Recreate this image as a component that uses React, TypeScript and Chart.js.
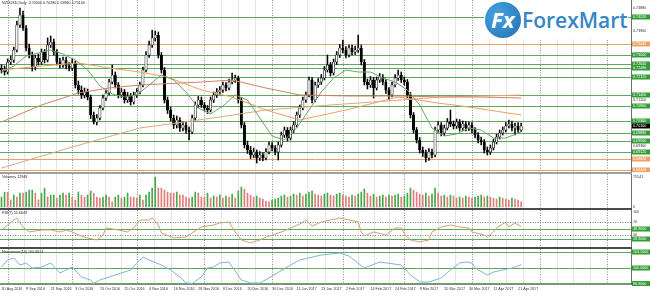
import React, { useEffect, useRef } from 'react';
import { Chart, registerables } from 'chart.js';

Chart.register(...registerables);

// ---------------- data ----------------
const opens = [
  0.7248, 0.7240, 0.7232, 0.7272, 0.7280, 0.7320, 0.7420, 0.7460, 0.7408, 0.7328,
  0.7300, 0.7252, 0.7288, 0.7272, 0.7312, 0.7280, 0.7340, 0.7352, 0.7312, 0.7272,
  0.7260, 0.7280, 0.7256, 0.7248, 0.7268, 0.7180, 0.7160, 0.7140, 0.7152, 0.7132,
  0.7060, 0.7032, 0.7048, 0.7088, 0.7128, 0.7148, 0.7192, 0.7220, 0.7180, 0.7140,
  0.7152, 0.7120, 0.7136, 0.7112, 0.7140, 0.7152, 0.7180, 0.7240, 0.7300, 0.7340,
  0.7368, 0.7380, 0.7300, 0.7240, 0.7120, 0.7080, 0.7048, 0.7020, 0.7040, 0.7008,
  0.7020, 0.7000, 0.6992, 0.7048, 0.7100, 0.7120, 0.7100, 0.7088, 0.7080, 0.7120,
  0.7140, 0.7152, 0.7160, 0.7180, 0.7168, 0.7192, 0.7200, 0.7208, 0.7120, 0.7020,
  0.6940, 0.6920, 0.6900, 0.6912, 0.6888, 0.6900, 0.6888, 0.6912, 0.6940, 0.6928,
  0.6912, 0.6940, 0.6980, 0.7000, 0.6968, 0.7000, 0.7020, 0.7060, 0.7088, 0.7120,
  0.7140, 0.7200, 0.7120, 0.7180, 0.7192, 0.7208, 0.7240, 0.7260, 0.7228, 0.7272,
  0.7300, 0.7328, 0.7320, 0.7300, 0.7328, 0.7312, 0.7320, 0.7328, 0.7272, 0.7192,
  0.7180, 0.7200, 0.7168, 0.7200, 0.7212, 0.7192, 0.7160, 0.7140, 0.7180, 0.7208,
  0.7220, 0.7200, 0.7192, 0.7140, 0.7060, 0.7000, 0.6960, 0.6920, 0.6908, 0.6888,
  0.6912, 0.6900, 0.7000, 0.7020, 0.6988, 0.7008, 0.7032, 0.7024, 0.7016, 0.7032,
  0.7008, 0.7024, 0.7008, 0.7020, 0.7000, 0.6980, 0.6960, 0.6952, 0.6920, 0.6912,
  0.6928, 0.6952, 0.6972, 0.6988, 0.7000, 0.7016, 0.7024, 0.7008, 0.7016, 0.7000,
];
const highs = [
  0.7262, 0.7256, 0.7284, 0.7296, 0.7332, 0.7436, 0.7488, 0.7476, 0.7418, 0.7344,
  0.7312, 0.7300, 0.7304, 0.7324, 0.7322, 0.7368, 0.7376, 0.7364, 0.7322, 0.7288,
  0.7292, 0.7292, 0.7270, 0.7284, 0.7276, 0.7196, 0.7176, 0.7168, 0.7164, 0.7140,
  0.7072, 0.7062, 0.7098, 0.7140, 0.7160, 0.7204, 0.7260, 0.7232, 0.7190, 0.7166,
  0.7162, 0.7150, 0.7146, 0.7152, 0.7166, 0.7192, 0.7252, 0.7314, 0.7356, 0.7400,
  0.7396, 0.7392, 0.7310, 0.7250, 0.7132, 0.7092, 0.7060, 0.7056, 0.7050, 0.7034,
  0.7032, 0.7012, 0.7060, 0.7112, 0.7134, 0.7132, 0.7110, 0.7098, 0.7132, 0.7152,
  0.7166, 0.7174, 0.7192, 0.7190, 0.7204, 0.7228, 0.7220, 0.7216, 0.7130, 0.7030,
  0.6956, 0.6934, 0.6928, 0.6920, 0.6914, 0.6910, 0.6926, 0.6952, 0.6950, 0.6938,
  0.6952, 0.6992, 0.7012, 0.7010, 0.7012, 0.7034, 0.7072, 0.7100, 0.7132, 0.7152,
  0.7212, 0.7210, 0.7192, 0.7206, 0.7222, 0.7254, 0.7300, 0.7270, 0.7284, 0.7314,
  0.7342, 0.7360, 0.7334, 0.7340, 0.7340, 0.7336, 0.7380, 0.7340, 0.7282, 0.7204,
  0.7214, 0.7210, 0.7212, 0.7226, 0.7222, 0.7202, 0.7170, 0.7192, 0.7222, 0.7240,
  0.7232, 0.7212, 0.7202, 0.7150, 0.7070, 0.7010, 0.6970, 0.6932, 0.6920, 0.6926,
  0.6924, 0.7012, 0.7034, 0.7030, 0.7020, 0.7046, 0.7080, 0.7036, 0.7044, 0.7042,
  0.7036, 0.7034, 0.7032, 0.7030, 0.7010, 0.6990, 0.6972, 0.6962, 0.6932, 0.6940,
  0.6964, 0.6984, 0.7000, 0.7012, 0.7030, 0.7040, 0.7036, 0.7028, 0.7030, 0.7028,
];
const lows = [
  0.7228, 0.7220, 0.7224, 0.7262, 0.7270, 0.7312, 0.7410, 0.7398, 0.7316, 0.7288,
  0.7236, 0.7240, 0.7260, 0.7262, 0.7268, 0.7272, 0.7330, 0.7300, 0.7260, 0.7248,
  0.7250, 0.7244, 0.7236, 0.7238, 0.7168, 0.7144, 0.7126, 0.7128, 0.7120, 0.7046,
  0.7024, 0.7020, 0.7040, 0.7080, 0.7118, 0.7140, 0.7184, 0.7168, 0.7128, 0.7130,
  0.7108, 0.7110, 0.7100, 0.7104, 0.7130, 0.7144, 0.7172, 0.7232, 0.7290, 0.7330,
  0.7356, 0.7288, 0.7228, 0.7108, 0.7066, 0.7036, 0.7006, 0.7008, 0.6994, 0.6996,
  0.6986, 0.6960, 0.6984, 0.7040, 0.7090, 0.7090, 0.7076, 0.7066, 0.7072, 0.7110,
  0.7130, 0.7142, 0.7150, 0.7156, 0.7160, 0.7184, 0.7190, 0.7108, 0.7008, 0.6928,
  0.6906, 0.6886, 0.6890, 0.6868, 0.6878, 0.6876, 0.6880, 0.6904, 0.6916, 0.6900,
  0.6880, 0.6932, 0.6970, 0.6956, 0.6960, 0.6990, 0.7012, 0.7050, 0.7080, 0.7110,
  0.7132, 0.7108, 0.7112, 0.7170, 0.7182, 0.7200, 0.7232, 0.7216, 0.7220, 0.7262,
  0.7290, 0.7308, 0.7288, 0.7292, 0.7300, 0.7302, 0.7310, 0.7260, 0.7180, 0.7164,
  0.7170, 0.7128, 0.7160, 0.7190, 0.7180, 0.7146, 0.7120, 0.7132, 0.7172, 0.7198,
  0.7190, 0.7180, 0.7128, 0.7048, 0.6988, 0.6948, 0.6908, 0.6894, 0.6872, 0.6878,
  0.6888, 0.6892, 0.6990, 0.6976, 0.6978, 0.7000, 0.7014, 0.7004, 0.7006, 0.6996,
  0.6998, 0.6996, 0.6998, 0.6988, 0.6968, 0.6948, 0.6940, 0.6908, 0.6900, 0.6902,
  0.6920, 0.6944, 0.6964, 0.6980, 0.6992, 0.7008, 0.6996, 0.6980, 0.6990, 0.6994,
];
const closes = [
  0.7240, 0.7232, 0.7272, 0.7280, 0.7320, 0.7420, 0.7460, 0.7408, 0.7328, 0.7300,
  0.7252, 0.7288, 0.7272, 0.7312, 0.7280, 0.7340, 0.7352, 0.7312, 0.7272, 0.7260,
  0.7280, 0.7256, 0.7248, 0.7268, 0.7180, 0.7160, 0.7140, 0.7152, 0.7132, 0.7060,
  0.7032, 0.7048, 0.7088, 0.7128, 0.7148, 0.7192, 0.7220, 0.7180, 0.7140, 0.7152,
  0.7120, 0.7136, 0.7112, 0.7140, 0.7152, 0.7180, 0.7240, 0.7300, 0.7340, 0.7368,
  0.7380, 0.7300, 0.7240, 0.7120, 0.7080, 0.7048, 0.7020, 0.7040, 0.7008, 0.7020,
  0.7000, 0.6992, 0.7048, 0.7100, 0.7120, 0.7100, 0.7088, 0.7080, 0.7120, 0.7140,
  0.7152, 0.7160, 0.7180, 0.7168, 0.7192, 0.7200, 0.7208, 0.7120, 0.7020, 0.6940,
  0.6920, 0.6900, 0.6912, 0.6888, 0.6900, 0.6888, 0.6912, 0.6940, 0.6928, 0.6912,
  0.6940, 0.6980, 0.7000, 0.6968, 0.7000, 0.7020, 0.7060, 0.7088, 0.7120, 0.7140,
  0.7200, 0.7120, 0.7180, 0.7192, 0.7208, 0.7240, 0.7260, 0.7228, 0.7272, 0.7300,
  0.7328, 0.7320, 0.7300, 0.7328, 0.7312, 0.7320, 0.7328, 0.7272, 0.7192, 0.7180,
  0.7200, 0.7168, 0.7200, 0.7212, 0.7192, 0.7160, 0.7140, 0.7180, 0.7208, 0.7220,
  0.7200, 0.7192, 0.7140, 0.7060, 0.7000, 0.6960, 0.6920, 0.6908, 0.6888, 0.6912,
  0.6900, 0.7000, 0.7020, 0.6988, 0.7008, 0.7032, 0.7024, 0.7016, 0.7032, 0.7008,
  0.7024, 0.7008, 0.7020, 0.7000, 0.6980, 0.6960, 0.6952, 0.6920, 0.6912, 0.6928,
  0.6952, 0.6972, 0.6988, 0.7000, 0.7016, 0.7024, 0.7008, 0.7016, 0.7000, 0.7016,
];
const volumes = [
  25120, 37480, 36950, 17600, 30210, 24870, 35140, 34880, 37720, 42310,
  42690, 35010, 17830, 34770, 47520, 25340, 29860, 30140, 22480, 29920,
  35260, 30070, 34910, 24780, 17540, 37810, 29940, 25230, 30180, 40120,
  34850, 25010, 22690, 24930, 30260, 25180, 12870, 25060, 29870, 22540,
  24920, 35180, 25110, 24870, 22730, 30040, 17680, 29950, 37640, 47380,
  75541, 47820, 47260, 42570, 37490, 35120, 34860, 37710, 30120, 29880,
  25070, 22610, 24980, 37540, 35090, 25140, 24890, 34970, 22580, 27630,
  25230, 29970, 22710, 27480, 24950, 32610, 22530, 40180, 50240, 45070,
  35060, 30140, 25020, 27590, 22640, 20130, 15080, 12670, 17590, 20040,
  22470, 27610, 30080, 25140, 27520, 32690, 29910, 35070, 27580, 32460,
  37690, 40210, 32570, 30110, 27540, 32480, 35130, 29960, 27610, 32590,
  34930, 30060, 27490, 25080, 30170, 27560, 32510, 37620, 45180, 35040,
  27530, 32470, 25090, 27610, 29980, 24960, 30120, 27480, 30070, 32540,
  25020, 27570, 35060, 47610, 42480, 37590, 32620, 30040, 34970, 27510,
  32570, 47490, 35140, 27620, 30010, 25080, 29970, 27540, 22610, 24980,
  22540, 27480, 25060, 22590, 25110, 27530, 29940, 25020, 27590, 24960,
  22510, 20080, 24970, 22620, 20030, 17560, 22480, 19970, 17610, 12948,
];

const dateTickBars = [0, 8, 16, 24, 32, 40, 48, 56, 64, 72, 80, 88, 96, 104, 112, 120, 128, 136, 144, 152, 160, 168];
const dateTickLabels = [
  '30 Aug 2016', '9 Sep 2016', '21 Sep 2016', '3 Oct 2016', '13 Oct 2016', '25 Oct 2016',
  '4 Nov 2016', '16 Nov 2016', '28 Nov 2016', '8 Dec 2016', '20 Dec 2016', '30 Dec 2016',
  '11 Jan 2017', '23 Jan 2017', '2 Feb 2017', '14 Feb 2017', '24 Feb 2017', '8 Mar 2017',
  '20 Mar 2017', '30 Mar 2017', '11 Apr 2017', '21 Apr 2017',
];
const monthStartBars = [2, 23, 44, 66, 88, 111, 131, 153, 175, 197];

const fastMaBars = [0, 4, 8, 12, 16, 20, 24, 28, 32, 36, 40, 44, 48, 52, 56, 60, 64, 68, 72, 76, 80, 84, 88, 92, 96, 100, 104, 108, 112, 116, 120, 124, 128, 132, 136, 140, 144, 148, 152, 156, 160, 164, 169];
const fastMaValues = [
  0.7232, 0.7256, 0.7296, 0.7308, 0.7320, 0.7304, 0.7280, 0.7240, 0.7176, 0.7144,
  0.7132, 0.7140, 0.7180, 0.7220, 0.7200, 0.7152, 0.7088, 0.7064, 0.7096, 0.7140,
  0.7120, 0.7048, 0.6976, 0.6960, 0.7008, 0.7080, 0.7152, 0.7208, 0.7240, 0.7232,
  0.7232, 0.7208, 0.7192, 0.7160, 0.7100, 0.7008, 0.6976, 0.6984, 0.7008, 0.7000,
  0.6968, 0.6968, 0.6992,
];
const ma50Bars = [0, 13, 25, 35, 45, 54, 65, 75, 86, 97, 112, 129, 142, 152, 169];
const ma50Values = [0.7240, 0.7256, 0.7268, 0.7248, 0.7232, 0.7212, 0.7160, 0.7132, 0.7080, 0.7040, 0.7080, 0.7132, 0.7108, 0.7092, 0.7060];
const ma100Bars = [0, 13, 25, 35, 45, 65, 75, 86, 97, 113, 130, 143, 156, 169];
const ma100Values = [0.7032, 0.7100, 0.7148, 0.7168, 0.7180, 0.7192, 0.7200, 0.7168, 0.7140, 0.7136, 0.7136, 0.7132, 0.7132, 0.7128];
const ma200Bars = [0, 23, 45, 71, 86, 107, 130, 143, 156, 169];
const ma200Values = [0.6848, 0.6932, 0.7008, 0.7052, 0.7080, 0.7100, 0.7120, 0.7132, 0.7136, 0.7140];

const rsiBars = [0, 2, 4, 5, 7, 9, 13, 16, 19, 21, 23, 25, 28, 31, 33, 34, 38, 41, 43, 45, 48, 49, 51, 52, 56, 60, 62, 65, 69, 71, 74, 76, 78, 81, 84, 87, 91, 94, 97, 99, 101, 104, 107, 110, 113, 116, 117, 118, 121, 125, 128, 130, 131, 133, 136, 139, 140, 143, 146, 149, 152, 153, 157, 158, 160, 161, 164, 165, 167, 169];
const rsiValues = [
  46, 61, 76, 82, 55, 40, 46, 46, 40, 46,
  40, 31, 22, 16, 31, 52, 46, 40, 52, 76,
  76, 82, 61, 37, 22, 25, 37, 55, 61, 67,
  70, 40, 16, 7, 16, 28, 40, 52, 64, 76,
  58, 70, 76, 82, 76, 70, 40, 28, 40, 31,
  52, 52, 34, 16, 10, 16, 40, 55, 61, 55,
  52, 40, 31, 25, 40, 52, 70, 55, 67, 55.6649,
];
const momBars = [0, 2, 4, 6, 8, 10, 13, 16, 19, 21, 23, 26, 29, 30, 32, 35, 39, 42, 44, 46, 48, 52, 55, 58, 60, 62, 65, 67, 69, 71, 74, 78, 81, 84, 87, 94, 97, 104, 110, 113, 118, 123, 130, 133, 136, 139, 143, 146, 149, 151, 153, 154, 158, 160, 163, 166, 169];
const momValues = [
  100.2, 101.6, 102.0, 100.6, 101.0, 100.0, 100.2, 101.0, 99.0, 99.6,
  100.2, 98.2, 97.6, 96.9, 97.6, 98.2, 99.0, 99.6, 101.0, 102.2,
  101.6, 100.6, 99.6, 98.2, 97.0, 96.9, 98.2, 100.0, 100.2, 101.0,
  101.2, 97.6, 97.0, 97.0, 98.0, 100.6, 101.6, 102.6, 103.0, 102.4,
  100.0, 101.2, 100.6, 98.6, 97.2, 97.2, 98.0, 99.6, 101.0, 101.2,
  101.0, 100.0, 98.6, 99.2, 99.6, 100.0, 100.6624,
];

const priceTicks = [0.7488, 0.7396, 0.7304, 0.7212, 0.7120, 0.7028, 0.6936];
const priceLevels = [0.7452, 0.7344, 0.7300, 0.7264, 0.7248, 0.7212, 0.7140, 0.7096, 0.7036, 0.6988, 0.6956, 0.6912, 0.6884, 0.6840];
const priceLevelKinds = ['g', 'o', 'g', 'g', 'g', 'g', 'g', 'g', 'g', 'g', 'g', 'g', 'o', 'o'];
const volumeTicks = [0, 75541];
const rsiTicks = [100, 70, 30];
const rsiDotted = [70, 30];
const rsiLevels = [48.9, 18.9];
const momLevels = [103.2, 100.0, 96.9];
const symbolName = 'NZDUSD,Daily';

// ---------------- styling ----------------
const FONT = '"Liberation Sans", Arial, sans-serif';
const FS = 3.7;
const AXIS_W = 19;
const X_MIN = -0.488;
const X_MAX = 204.72;
const GREEN_LINE = '#5ea85e';
const GREEN_BOX = '#2f9c34';
const ORANGE_LINE = '#e9a064';
const ORANGE_BOX = '#eea262';

type Level = { value: number; line?: string; box?: string; dash?: number[]; text?: string };

const pts = (bars: number[], vals: number[]) => bars.map((b, k) => ({ x: b, y: vals[k] }));

function vline(ctx: any, px: number, a: any) {
  const x = Math.round(px) + 0.5;
  ctx.beginPath();
  ctx.moveTo(x, a.top);
  ctx.lineTo(x, a.bottom);
  ctx.stroke();
}

function overlayPlugin(levels: Level[], caption: string) {
  return {
    id: 'overlay',
    beforeDatasetsDraw(chart: any) {
      const { ctx, chartArea: a, scales } = chart;
      const xs = scales.x;
      const ys = scales.y;
      ctx.save();
      ctx.beginPath();
      ctx.rect(a.left, a.top, a.right - a.left, a.bottom - a.top);
      ctx.clip();
      ctx.lineWidth = 1;
      ctx.strokeStyle = '#e4e4e4';
      for (let m = 0; m < monthStartBars.length - 1; m++) {
        const b0 = monthStartBars[m];
        const step = (monthStartBars[m + 1] - b0) / 4;
        for (let k = 1; k < 4; k++) vline(ctx, xs.getPixelForValue(b0 + step * k), a);
      }
      ctx.setLineDash([1, 1.5]);
      ctx.strokeStyle = '#8d8d8d';
      monthStartBars.forEach((b) => vline(ctx, xs.getPixelForValue(b), a));
      levels.forEach((l) => {
        if (!l.line) return;
        ctx.setLineDash(l.dash || []);
        ctx.strokeStyle = l.line;
        const py = Math.round(ys.getPixelForValue(l.value)) + 0.5;
        ctx.beginPath();
        ctx.moveTo(a.left, py);
        ctx.lineTo(a.right, py);
        ctx.stroke();
      });
      ctx.restore();
    },
    afterDraw(chart: any) {
      const { ctx, chartArea: a, scales } = chart;
      const ys = scales.y;
      ctx.save();
      ctx.font = `${FS}px ${FONT}`;
      ctx.textAlign = 'left';
      ctx.textBaseline = 'middle';
      levels.forEach((l) => {
        if (!l.box) return;
        const py = ys.getPixelForValue(l.value);
        ctx.fillStyle = l.box;
        ctx.fillRect(a.right + 1, py - 2.5, chart.width - a.right - 1, 5);
        ctx.fillStyle = '#ffffff';
        ctx.fillText(l.text ?? l.value.toFixed(5), a.right + 2, py + 0.3);
      });
      ctx.fillStyle = '#2a2a2a';
      ctx.textBaseline = 'top';
      ctx.fillText(caption, a.left + 2, a.top + 1);
      ctx.restore();
    },
  };
}

function baseOptions(yMin: number, yMax: number, yTicks: number[], fmt: (v: number) => string, showY: boolean, showX: boolean) {
  return {
    responsive: false,
    maintainAspectRatio: false,
    animation: false,
    devicePixelRatio: 1,
    events: [],
    layout: { padding: 0 },
    plugins: { legend: { display: false }, tooltip: { enabled: false }, title: { display: false } },
    scales: {
      x: {
        type: 'linear',
        min: X_MIN,
        max: X_MAX,
        offset: false,
        bounds: 'data',
        display: showX,
        grid: { display: false, drawTicks: false },
        border: { display: showX, color: '#8a8a8a' },
        afterBuildTicks: (s: any) => { s.ticks = dateTickBars.map((v) => ({ value: v })); },
        afterFit: (s: any) => { if (showX) s.height = 12; s.paddingLeft = 0; s.paddingRight = 0; },
        ticks: {
          autoSkip: false, maxRotation: 0, minRotation: 0, align: 'start', padding: 3,
          color: '#333333', font: { size: FS, family: FONT },
          callback: (_v: any, i: number) => dateTickLabels[i],
        },
      },
      y: {
        type: 'linear',
        position: 'right',
        min: yMin,
        max: yMax,
        bounds: 'data',
        grid: { display: false, drawTicks: false },
        border: { display: true, color: '#6e6e6e' },
        afterBuildTicks: (s: any) => { s.ticks = yTicks.map((v) => ({ value: v })); },
        afterFit: (s: any) => { s.width = AXIS_W; s.paddingTop = 0; s.paddingBottom = 0; },
        ticks: {
          display: showY, autoSkip: false, padding: 2, color: '#333333',
          font: { size: FS, family: FONT },
          callback: (v: any) => fmt(Number(v)),
        },
      },
    },
  };
}

function lineSet(data: any[], color: string) {
  return { type: 'line', data, borderColor: color, borderWidth: 1, pointRadius: 0, tension: 0, fill: false };
}

function mainConfig(): any {
  const bodies = closes.map((c, i) => ({ x: i, y: [opens[i], c] }));
  const wicks = closes.map((_c, i) => ({ x: i, y: [lows[i], highs[i]] }));
  const bodyColors = closes.map((c, i) => (c >= opens[i] ? '#ffffff' : '#000000'));
  const n = closes.length - 1;
  const levels: Level[] = priceLevels.map((v, k) => ({
    value: v,
    line: priceLevelKinds[k] === 'g' ? GREEN_LINE : ORANGE_LINE,
    box: priceLevelKinds[k] === 'g' ? GREEN_BOX : ORANGE_BOX,
  }));
  levels.push({ value: closes[n], box: '#000000' });
  const caption = `${symbolName}  ${opens[n].toFixed(5)} ${highs[n].toFixed(5)} ${lows[n].toFixed(5)} ${closes[n].toFixed(5)}`;
  return {
    type: 'bar',
    data: {
      datasets: [
        lineSet(pts(fastMaBars, fastMaValues), '#6aa46a'),
        lineSet(pts(ma50Bars, ma50Values), '#eaa064'),
        lineSet(pts(ma100Bars, ma100Values), '#cf8262'),
        lineSet(pts(ma200Bars, ma200Values), '#d9aa80'),
        {
          type: 'bar', data: bodies, backgroundColor: bodyColors, borderColor: '#000000',
          borderWidth: 0.7, borderSkipped: false, barThickness: 2.4, grouped: false, minBarLength: 0.8,
        },
        { type: 'bar', data: wicks, backgroundColor: '#000000', borderWidth: 0, barThickness: 0.9, grouped: false },
      ],
    },
    options: baseOptions(0.6832, 0.7520, priceTicks, (v) => v.toFixed(5), true, false),
    plugins: [overlayPlugin(levels, caption)],
  };
}

function volumeConfig(): any {
  const colors = volumes.map((v, i) => (i === 0 || v > volumes[i - 1] ? '#46a846' : '#e27c7c'));
  return {
    type: 'bar',
    data: {
      datasets: [
        { type: 'bar', data: volumes.map((v, i) => ({ x: i, y: v })), backgroundColor: colors, barThickness: 1, grouped: false },
      ],
    },
    options: baseOptions(-2518, 83095, volumeTicks, (v) => String(v), true, false),
    plugins: [overlayPlugin([], `Volumes ${volumes[volumes.length - 1]}`)],
  };
}

function rsiConfig(): any {
  const levels: Level[] = [
    ...rsiDotted.map((v) => ({ value: v, line: '#7a7a7a', dash: [1, 1.5] })),
    ...rsiLevels.map((v) => ({ value: v, line: GREEN_LINE, box: GREEN_BOX, text: v.toFixed(4) })),
  ];
  return {
    type: 'line',
    data: { datasets: [lineSet(pts(rsiBars, rsiValues), '#d49f6c')] },
    options: baseOptions(-5.1, 106, rsiTicks, (v) => String(v), true, false),
    plugins: [overlayPlugin(levels, `RSI(7) ${rsiValues[rsiValues.length - 1].toFixed(4)}`)],
  };
}

function momConfig(): any {
  const levels: Level[] = momLevels.map((v) => ({ value: v, line: GREEN_LINE, box: GREEN_BOX, text: v.toFixed(4) }));
  return {
    type: 'line',
    data: { datasets: [lineSet(pts(momBars, momValues), '#80b2da')] },
    options: baseOptions(96.8, 103.8, [100], (v) => v.toFixed(4), false, true),
    plugins: [overlayPlugin(levels, `Momentum(14) ${momValues[momValues.length - 1].toFixed(4)}`)],
  };
}

export default function App() {
  const mainRef = useRef<HTMLCanvasElement>(null);
  const volRef = useRef<HTMLCanvasElement>(null);
  const rsiRef = useRef<HTMLCanvasElement>(null);
  const momRef = useRef<HTMLCanvasElement>(null);

  useEffect(() => {
    const charts: Chart[] = [];
    if (mainRef.current) charts.push(new Chart(mainRef.current, mainConfig()));
    if (volRef.current) charts.push(new Chart(volRef.current, volumeConfig()));
    if (rsiRef.current) charts.push(new Chart(rsiRef.current, rsiConfig()));
    if (momRef.current) charts.push(new Chart(momRef.current, momConfig()));
    return () => charts.forEach((c) => c.destroy());
  }, []);

  const abs = (top: number, h: number): React.CSSProperties => ({ position: 'absolute', left: 0, top, width: 650, height: h });
  const sep = (top: number, color: string): React.CSSProperties => ({ position: 'absolute', left: 0, top, width: 632, height: 2, background: color });

  return (
    <div style={{ position: 'fixed', left: 0, top: 0, width: 650, height: 296, background: '#ffffff', overflow: 'hidden' }}>
      <canvas ref={mainRef} width={650} height={172} style={abs(0, 172)} />
      <div style={sep(172, '#a0a0a0')} />
      <canvas ref={volRef} width={650} height={34} style={abs(174, 34)} />
      <div style={sep(208, '#4a4a4a')} />
      <canvas ref={rsiRef} width={650} height={37} style={abs(210, 37)} />
      <div style={sep(247, '#4a4a4a')} />
      <canvas ref={momRef} width={650} height={47} style={abs(249, 47)} />
      <div style={{ position: 'absolute', left: 484, top: 0, width: 144, height: 39, background: '#ffffff' }}>
        <div
          style={{
            position: 'absolute', left: 1, top: 2, width: 36, height: 36, borderRadius: '50%',
            background: 'radial-gradient(circle at 35% 35%, #47a2e2, #1f70b0)',
          }}
        >
          <span
            style={{
              position: 'absolute', left: 6, top: 1, color: '#ffffff',
              font: 'italic 700 22px "Open Sans", sans-serif', lineHeight: '32px',
            }}
          >
            Fx
          </span>
        </div>
        <span
          style={{
            position: 'absolute', left: 38, top: 6, color: '#3586c6', whiteSpace: 'nowrap',
            font: '600 21px "Open Sans", sans-serif', lineHeight: '28px',
          }}
        >
          ForexMart
        </span>
      </div>
    </div>
  );
}
